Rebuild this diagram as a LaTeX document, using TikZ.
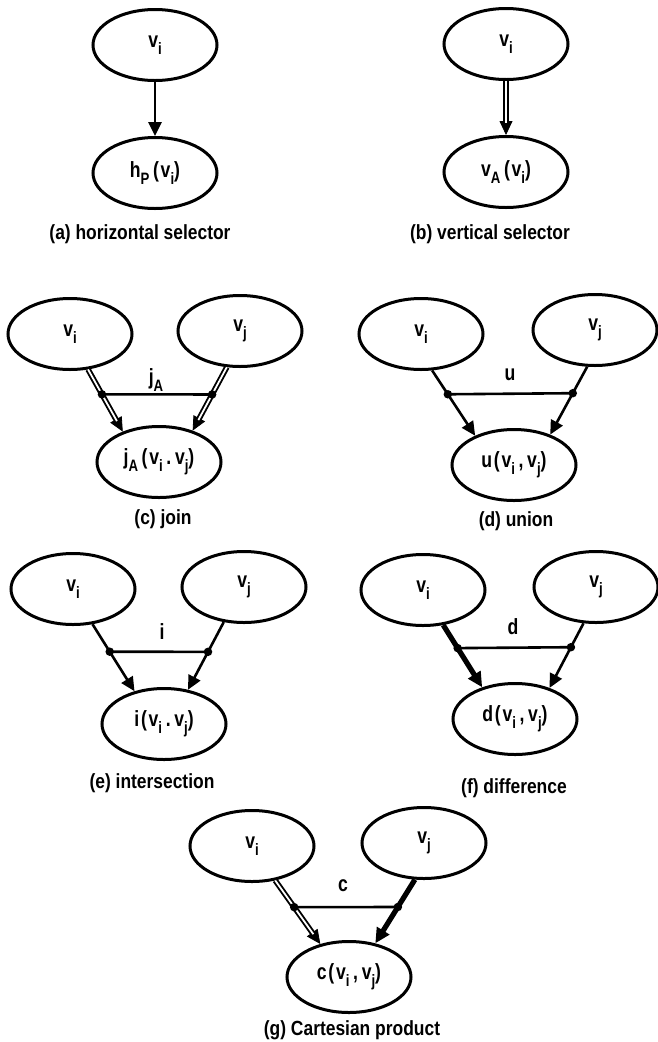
\documentclass[tikz,border=0pt]{standalone}
\usepackage{fontspec}
\setmainfont{Liberation Sans}
\newfontfamily\capfamily{Liberation Sans Bold}[FakeStretch=0.85]
\newfontfamily\nodefamily{Liberation Sans Bold}[FakeStretch=0.8, LetterSpace=8]
\usetikzlibrary{shapes.geometric,arrows.meta,calc}
% lowered subscript in the current font
\newcommand\lo[1]{\raisebox{-0.3em}{\fontsize{16.5}{16.5}\selectfont #1}}
\tikzset{
  relnode/.style={ellipse, draw, line width=3pt, minimum width=124pt, minimum height=71pt,
    inner sep=0pt, font=\nodefamily\fontsize{22}{22}\selectfont},
  captext/.style={font=\capfamily\fontsize{20.5}{20.5}\selectfont},
  oplabel/.style={font=\nodefamily\fontsize{22}{22}\selectfont},
  arrtip/.style={-{Triangle[length=14pt,width=13pt]}},
  plainarrow/.style={arrtip, line width=2.6pt},
  heavyarrow/.style={-{Triangle[length=15pt,width=14pt]}, line width=5.2pt},
  dblshaft/.style={double, double distance=1.8pt, line width=1.9pt, shorten >=12pt},
  tiponly/.style={arrtip, line width=0.8pt},
  joinbar/.style={line width=2.6pt},
  joindot/.style={circle, fill, inner sep=0pt, minimum size=8.5pt},
}
\begin{document}
\begin{tikzpicture}[x=1pt, y=-1pt]
\useasboundingbox (0,0) rectangle (657,1042);

% (a) horizontal selector
\node[relnode] (a1) at (155,45) {v\lo{i}};
\node[relnode] (a2) at (155,173) {h\lo{P}\,(v\lo{i})};
\draw[plainarrow] (a1) -- (a2);
\node[captext] (acap) at (140,234) {(a) horizontal selector};

% (b) vertical selector
\node[relnode] (b1) at (506,44) {v\lo{i}};
\node[relnode] (b2) at (506,172) {v\lo{A}\,(v\lo{i})};
\draw[tiponly] (b1) -- (b2);
\draw[dblshaft] (b1) -- (b2);
\node[captext] (bcap) at (490,234) {(b) vertical selector};

% (c) join
\node[relnode] (c1) at (70,334) {v\lo{i}};
\node[relnode] (c2) at (240,331) {v\lo{j}};
\node[relnode] (c3) at (159,462) {j\lo{A}\,(v\lo{i}\,.\,v\lo{j})};
\draw[tiponly] (c1.-63) -- (c3.140);
\draw[dblshaft] (c1.-63) -- (c3.140);
\draw[tiponly] (c2.-110) -- (c3.43);
\draw[dblshaft] (c2.-110) -- (c3.43);
\coordinate (cjl) at ($(c1.-63)!0.40!(c3.140)$);
\coordinate (cjr) at ($(c2.-110)!0.43!(c3.43)$);
\draw[joinbar] (cjl) -- (cjr);
\node[joindot] at (cjl) {};
\node[joindot] at (cjr) {};
\node[oplabel] (clbl) at (156,380) {j\lo{A}};
\node[captext] (ccap) at (163,519) {(c) join};

% (d) union
\node[relnode] (d1) at (421,334) {v\lo{i}};
\node[relnode] (d2) at (595,330) {v\lo{j}};
\node[relnode] (d3) at (514,465) {u(v\lo{i}\,,\,v\lo{j})};
\draw[plainarrow] (d1.-73) -- (d3.143);
\draw[plainarrow] (d2.-102) -- (d3.40);
\coordinate (djl) at ($(d1.-73)!0.365!(d3.143)$);
\coordinate (djr) at ($(d2.-102)!0.39!(d3.40)$);
\draw[joinbar] (djl) -- (djr);
\node[joindot] at (djl) {};
\node[joindot] at (djr) {};
\node[oplabel] (dlbl) at (510,375) {u};
\node[captext] (dcap) at (516,521) {(d) union};

% (e) intersection
\node[relnode] (e1) at (73,589) {v\lo{i}};
\node[relnode] (e2) at (244,587) {v\lo{j}};
\node[relnode] (e3) at (164,724) {i(v\lo{i}\,.\,v\lo{j})};
\draw[plainarrow] (e1.-61) -- (e3.132);
\draw[plainarrow] (e2.-120) -- (e3.55);
\coordinate (ejl) at ($(e1.-61)!0.41!(e3.132)$);
\coordinate (ejr) at ($(e2.-120)!0.44!(e3.55)$);
\draw[joinbar] (ejl) -- (ejr);
\node[joindot] at (ejl) {};
\node[joindot] at (ejr) {};
\node[oplabel] (elbl) at (162,632) {i};
\node[captext] (ecap) at (152,783) {(e) intersection};

% (f) difference
\node[relnode] (f1) at (423,590) {v\lo{i}};
\node[relnode] (f2) at (596,587) {v\lo{j}};
\node[relnode] (f3) at (515,719) {d(v\lo{i}\,,\,v\lo{j})};
\draw[heavyarrow] (f1.-60) -- (f3.136);
\draw[plainarrow] (f2.-109) -- (f3.42);
\coordinate (fjl) at ($(f1.-60)!0.37!(f3.136)$);
\coordinate (fjr) at ($(f2.-109)!0.37!(f3.42)$);
\draw[joinbar] (fjl) -- (fjr);
\node[joindot] at (fjl) {};
\node[joindot] at (fjr) {};
\node[oplabel] (flbl) at (513,627) {d};
\node[captext] (fcap) at (514,788) {(f) difference};

% (g) Cartesian product
\node[relnode] (g1) at (252,846) {v\lo{i}};
\node[relnode] (g2) at (424,843) {v\lo{j}};
\node[relnode] (g3) at (349,977) {c(v\lo{i}\,,\,v\lo{j})};
\draw[tiponly] (g1.-56) -- (g3.131);
\draw[dblshaft] (g1.-56) -- (g3.131);
\draw[heavyarrow] (g2.-104) -- (g3.52);
\coordinate (gjl) at ($(g1.-56)!0.42!(g3.131)$);
\coordinate (gjr) at ($(g2.-104)!0.43!(g3.52)$);
\draw[joinbar] (gjl) -- (gjr);
\node[joindot] at (gjl) {};
\node[joindot] at (gjr) {};
\node[oplabel] (glbl) at (343,886) {c};
\node[captext] (gcap) at (352,1030) {(g) Cartesian product};
\end{tikzpicture}
\end{document}
